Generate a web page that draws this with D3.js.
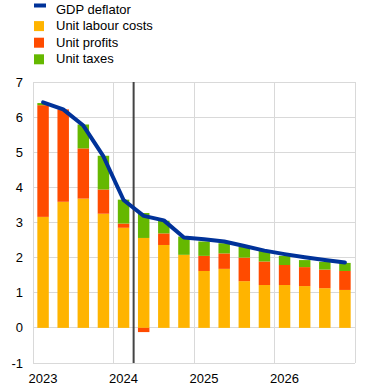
<!DOCTYPE html>
<html>
<head>
<meta charset="utf-8">
<script src="https://cdn.jsdelivr.net/npm/d3@7"></script>
<style>
html,body{margin:0;padding:0;background:#fff;}
svg{display:block;font-family:Arial,"Liberation Sans",sans-serif;}
</style>
</head>
<body>
<svg id="chart" width="372" height="390"></svg>
<script>
const quarters = ["2023Q1","2023Q2","2023Q3","2023Q4","2024Q1","2024Q2","2024Q3","2024Q4",
                  "2025Q1","2025Q2","2025Q3","2025Q4","2026Q1","2026Q2","2026Q3","2026Q4"];
const unitLabourCosts = [3.16,3.59,3.68,3.25,2.85,2.56,2.36,2.08,1.62,1.68,1.33,1.22,1.22,1.19,1.13,1.08];
const unitProfits     = [3.18,2.63,1.43,0.69,0.12,-0.12,0.33,0.00,0.43,0.44,0.67,0.67,0.57,0.54,0.53,0.54];
const unitTaxes       = [0.06,0.00,0.68,0.96,0.68,0.71,0.36,0.52,0.41,0.29,0.31,0.30,0.26,0.20,0.22,0.23];
const gdpDeflator     = [6.42,6.22,5.76,4.88,3.64,3.19,3.06,2.57,2.52,2.46,2.33,2.20,2.10,2.01,1.93,1.86];
const yTicks = [-1,0,1,2,3,4,5,6,7];
const yearLabels = ["2023","2024","2025","2026"];
const projectionStart = "2024Q2";

const seriesNames = ["Unit labour costs","Unit profits","Unit taxes"];
const seriesValues = [unitLabourCosts, unitProfits, unitTaxes];
const colors = {"GDP deflator":"#003299","Unit labour costs":"#ffb400","Unit profits":"#ff4b00","Unit taxes":"#65b800"};

const svg = d3.select("#chart");
const m = {left:33, right:355, top:82, bottom:363};

const pad = 0.43;
const x = d3.scaleBand().domain(quarters).range([m.left, m.right]).paddingInner(pad).paddingOuter(pad/2);
const step = x.step();
const y = d3.scaleLinear().domain([-1,7]).range([m.bottom, m.top]);
const boundary = q => x(q) - step*pad/2;

// grid
const g = svg.append("g");
g.selectAll("line.h").data(yTicks).join("line")
  .attr("x1", m.left).attr("x2", m.right)
  .attr("y1", d => y(d)).attr("y2", d => y(d))
  .attr("stroke", "#d9d9d9").attr("stroke-width", 1).attr("shape-rendering","crispEdges");
const vlines = [m.left].concat(yearLabels.slice(1).map(yr => boundary(yr+"Q1"))).concat([m.right]);
g.selectAll("line.v").data(vlines).join("line")
  .attr("x1", d => d).attr("x2", d => d)
  .attr("y1", m.top).attr("y2", m.bottom)
  .attr("stroke", "#d9d9d9").attr("stroke-width", 1).attr("shape-rendering","crispEdges");

// y labels
svg.append("g").selectAll("text").data(yTicks).join("text")
  .attr("x", 23).attr("y", d => y(d)).attr("dy", "0.35em")
  .attr("text-anchor", "end").attr("font-size", 13).attr("fill", "#000")
  .text(d => d);

// x labels
svg.append("g").selectAll("text").data(yearLabels).join("text")
  .attr("x", d => x(d+"Q1") + x.bandwidth()/2).attr("y", 383)
  .attr("text-anchor", "middle").attr("font-size", 13).attr("fill", "#000")
  .text(d => d);

// stacked bars (positive and negative stacks)
const bars = svg.append("g");
quarters.forEach((q, i) => {
  let pos = 0, neg = 0;
  seriesNames.forEach((s, k) => {
    const v = seriesValues[k][i];
    if (v === 0) return;
    let y0, y1;
    if (v > 0) { y0 = pos; y1 = pos + v; pos = y1; }
    else { y0 = neg + v; y1 = neg; neg = y0; }
    bars.append("rect")
      .attr("x", x(q)).attr("width", x.bandwidth())
      .attr("y", y(y1)).attr("height", y(y0) - y(y1))
      .attr("fill", colors[s]);
  });
});

// projection separator
const sx = boundary(projectionStart);
svg.append("line").attr("x1", sx).attr("x2", sx).attr("y1", m.top).attr("y2", m.bottom)
  .attr("stroke", "#444").attr("stroke-width", 2);

// line
const line = d3.line().x((d,i) => x(quarters[i]) + x.bandwidth()/2).y(d => y(d));
svg.append("path").datum(gdpDeflator).attr("d", line)
  .attr("fill", "none").attr("stroke", colors["GDP deflator"]).attr("stroke-width", 4)
  .attr("stroke-linejoin", "round").attr("stroke-linecap", "round");

// legend
const leg = svg.append("g");
const legItems = ["GDP deflator","Unit labour costs","Unit profits","Unit taxes"];
legItems.forEach((name, i) => {
  const base = 13.5 + i*16.6;
  if (i === 0) {
    leg.append("rect").attr("x", 34).attr("y", base-10).attr("width", 12).attr("height", 4).attr("fill", colors[name]);
  } else {
    leg.append("rect").attr("x", 34).attr("y", base-9).attr("width", 10).attr("height", 10).attr("fill", colors[name]);
  }
  leg.append("text").attr("x", 56).attr("y", base).attr("font-size", 13).attr("fill", "#000").text(name);
});
</script>
</body>
</html>
